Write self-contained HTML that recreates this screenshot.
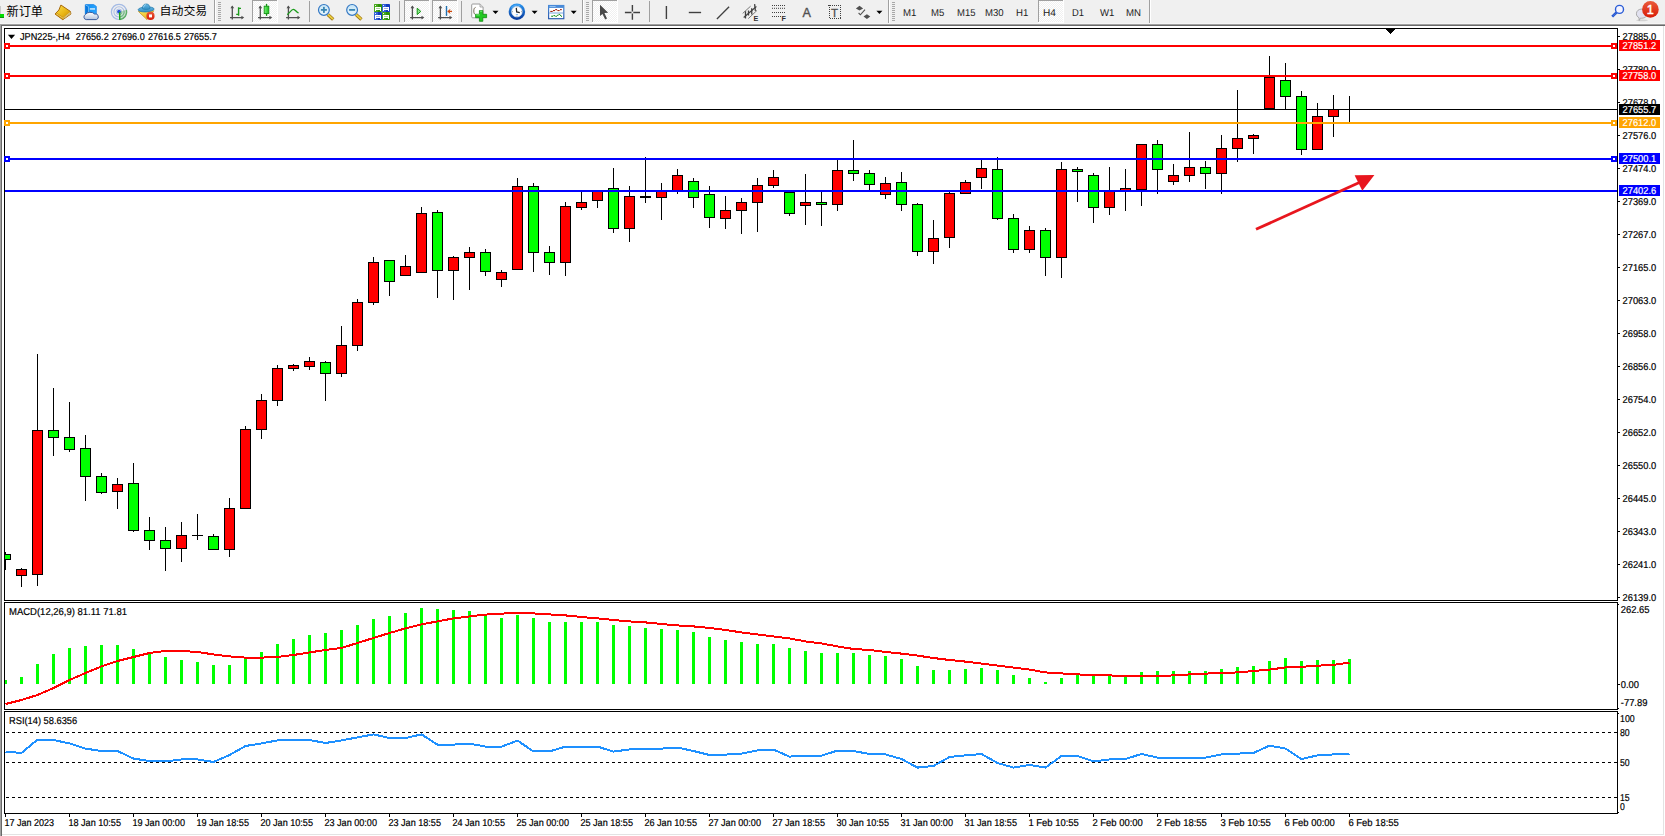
<!DOCTYPE html>
<html lang="zh-CN"><head><meta charset="utf-8"><title>JPN225-,H4</title>
<style>
html,body{margin:0;padding:0;background:#fff;}
body{width:1665px;height:836px;overflow:hidden;position:relative;font-family:"Liberation Sans", "Noto Sans CJK SC", sans-serif;}
#tb{position:absolute;left:0;top:0;width:1665px;height:24px;background:#f0f0f0;}
#tb .t{position:absolute;white-space:nowrap;color:#000;}
svg{position:absolute;left:0;top:0;}
svg text{font-family:"Liberation Sans", "Noto Sans CJK SC", sans-serif;}
.ax{font-size:10px;fill:#000;stroke:#000;stroke-width:0.2px;}
.dt{letter-spacing:-0.17px;}
</style></head><body>
<div id="tb"><svg width="1665" height="24" viewBox="0 0 1665 24" style="position:absolute;left:0;top:0">
<defs>
<linearGradient id="gGold" x1="0" y1="0" x2="1" y2="1"><stop offset="0" stop-color="#fbe04a"/><stop offset="0.55" stop-color="#e9b616"/><stop offset="1" stop-color="#b97a08"/></linearGradient>
<linearGradient id="gCloud" x1="0" y1="0" x2="0" y2="1"><stop offset="0" stop-color="#ffffff"/><stop offset="1" stop-color="#b4c4de"/></linearGradient>
<linearGradient id="gSrv" x1="0" y1="0" x2="1" y2="0"><stop offset="0" stop-color="#0a8cf0"/><stop offset="1" stop-color="#2aa4ff"/></linearGradient>
<linearGradient id="gHat" x1="0" y1="0" x2="0" y2="1"><stop offset="0" stop-color="#6ab8e6"/><stop offset="1" stop-color="#2f8fc4"/></linearGradient>
<linearGradient id="gFace" x1="0" y1="0" x2="1" y2="1"><stop offset="0" stop-color="#ffe95a"/><stop offset="1" stop-color="#e0a81c"/></linearGradient>
<linearGradient id="gRed" x1="0" y1="0" x2="0" y2="1"><stop offset="0" stop-color="#ea5a3a"/><stop offset="1" stop-color="#d81c08"/></linearGradient>
<linearGradient id="gGreen" x1="0" y1="0" x2="1" y2="0"><stop offset="0" stop-color="#7af07a"/><stop offset="1" stop-color="#18c018"/></linearGradient>
<linearGradient id="gLens" x1="0" y1="0" x2="0" y2="1"><stop offset="0" stop-color="#c4e4f6"/><stop offset="1" stop-color="#eaf6fc"/></linearGradient>
<linearGradient id="gClock" x1="0" y1="0" x2="0" y2="1"><stop offset="0" stop-color="#2a90ea"/><stop offset="1" stop-color="#0a3ea0"/></linearGradient>
<linearGradient id="gTpl" x1="0" y1="0" x2="0" y2="1"><stop offset="0" stop-color="#4a8ad8"/><stop offset="1" stop-color="#2a5cae"/></linearGradient>
<radialGradient id="gSig" cx="0.5" cy="0.5" r="0.5"><stop offset="0" stop-color="#fff" stop-opacity="0"/><stop offset="1" stop-color="#fff" stop-opacity="0"/></radialGradient>
<pattern id="chk" width="2" height="2" patternUnits="userSpaceOnUse"><rect width="2" height="2" fill="#f0f0f0"/><rect width="1" height="1" fill="#fff"/><rect x="1" y="1" width="1" height="1" fill="#fff"/></pattern>
</defs>
<rect x="0" y="14" width="4" height="3" fill="#00dc00"/><rect x="0" y="17" width="4" height="1" fill="#109010"/><rect x="0" y="6" width="1" height="8" fill="#c8c8c8"/>
<path d="M60.9 5 L70.4 11.4 L70.9 14 L62.8 19.7 L55 14 L58.9 10 Z" fill="url(#gGold)" stroke="#a8690a" stroke-width="1" stroke-linejoin="round"/>
<path d="M55.4 14 L62.8 19.3 L63.6 17.6 L56.6 12.8 Z" fill="#c98c12"/>
<path d="M56.2 13.6 L63.2 18.4" stroke="#f6dc6a" stroke-width="0.8" fill="none"/>
<path d="M63.4 19 L70.6 13.8 L70.2 12 L63.8 17.4 Z" fill="#e6d9a4"/>
<path d="M63.6 18.300 L70.400 13" stroke="#b89a50" stroke-width="0.6" fill="none"/>
<path d="M85.3 4.600 h8.400 l2.600 1.800 v7.600 h-11z" fill="url(#gSrv)" stroke="#1a84e6" stroke-width="0.8"/>
<path d="M85.5 4.900 l3 2 v6.600" fill="none" stroke="#c6e8ff" stroke-width="0.8"/>
<path d="M85.4 5 l3 2 v7 h-3z" fill="#0a78dc"/>
<rect x="89.8" y="8.300" width="5.200" height="1.300" fill="#eaf7ff"/>
<path d="M86.2 19.600 A2.700 2.700 0 0 1 85.700 14.400 A4.700 2.900 0 0 1 94.500 14 A2.900 2.900 0 0 1 96.300 19.600 Z" fill="url(#gCloud)" stroke="#3c5c9c" stroke-width="1" stroke-linejoin="round"/>
<g fill="none"><circle cx="119" cy="11.9" r="7.6" stroke="#5a86da" stroke-opacity="0.5" stroke-width="1.2"/><circle cx="119" cy="11.9" r="5.1" stroke="#5a86da" stroke-opacity="0.45" stroke-width="1.1"/><circle cx="119" cy="11.9" r="2.9" stroke="#5a86da" stroke-opacity="0.4" stroke-width="1"/></g>
<g fill="none" stroke="#4aa84a"><path d="M119.8 19.5 A7.6 7.6 0 0 0 126.4 10" stroke-opacity="0.85" stroke-width="1.4"/><path d="M119.8 17 A5.1 5.1 0 0 0 124 10.6" stroke-opacity="0.6" stroke-width="1.2"/><path d="M120 14.7 A2.9 2.9 0 0 0 121.8 11" stroke-opacity="0.5" stroke-width="1"/></g>
<path d="M119.6 12 L119.6 19.6 A7.8 7.8 0 0 0 126.4 9.4 Z" fill="#7cc47c" fill-opacity="0.28"/>
<circle cx="119" cy="11.7" r="1.9" fill="#2454d4"/>
<rect x="119" y="12" width="1.4" height="7.8" fill="#18a418"/>
<path d="M138.4 11.4 L153.8 10.8 L147 19.6 Z" fill="url(#gFace)" stroke="#c89418" stroke-width="0.8" stroke-linejoin="round"/>
<ellipse cx="146.1" cy="9.4" rx="8" ry="2.5" transform="rotate(-3 146.1 9.4)" fill="url(#gHat)" stroke="#2a80b0" stroke-width="0.8"/>
<path d="M142.4 8.6 c0-2.8 1.4-4.6 3.8-4.6 c2.4 0 3.8 1.800 3.800 4.400 c-1.200 1.300-6.400 1.400-7.600 0.200z" fill="url(#gHat)" stroke="#2a80b0" stroke-width="0.8"/>
<path d="M143.6 7.4 c0.200-1.600 1-2.600 2.200-2.800" fill="none" stroke="#a8dcf6" stroke-width="0.9"/>
<circle cx="150.5" cy="15.9" r="4.1" fill="url(#gRed)"/><rect x="149" y="14.4" width="3" height="3" fill="#fff"/>
<rect x="214" y="0" width="1" height="24" fill="#a0a0a0" shape-rendering="crispEdges"/><rect x="215" y="0" width="1" height="23" fill="#fff" shape-rendering="crispEdges"/>
<rect x="218" y="2" width="3" height="1" fill="#a8a8a8" shape-rendering="crispEdges"/>
<rect x="218" y="4" width="3" height="1" fill="#a8a8a8" shape-rendering="crispEdges"/>
<rect x="218" y="6" width="3" height="1" fill="#a8a8a8" shape-rendering="crispEdges"/>
<rect x="218" y="8" width="3" height="1" fill="#a8a8a8" shape-rendering="crispEdges"/>
<rect x="218" y="10" width="3" height="1" fill="#a8a8a8" shape-rendering="crispEdges"/>
<rect x="218" y="12" width="3" height="1" fill="#a8a8a8" shape-rendering="crispEdges"/>
<rect x="218" y="14" width="3" height="1" fill="#a8a8a8" shape-rendering="crispEdges"/>
<rect x="218" y="16" width="3" height="1" fill="#a8a8a8" shape-rendering="crispEdges"/>
<rect x="218" y="18" width="3" height="1" fill="#a8a8a8" shape-rendering="crispEdges"/>
<rect x="218" y="20" width="3" height="1" fill="#a8a8a8" shape-rendering="crispEdges"/>
<g stroke="#505050" stroke-width="1.3" fill="none" stroke-linecap="butt"><path d="M232.3 6.3V19.6M230.0 17.6H242.8"/></g>
<path d="M232.3 5.4l-1.9 2.8h3.8zM244.2 17.6l-2.800-1.900v3.800z" fill="#505050"/>
<path d="M238.6 7.2V15.8M238.6 8.4H241M236.2 14.4H238.6" stroke="#1c9c1c" stroke-width="1.4" fill="none"/>
<g shape-rendering="crispEdges"><rect x="252" y="0" width="25" height="23" fill="url(#chk)"/>
<rect x="252" y="0" width="25" height="1" fill="#a0a0a0"/><rect x="252" y="0" width="1" height="22" fill="#a0a0a0"/>
<rect x="252" y="22" width="26" height="1" fill="#fff"/><rect x="277" y="0" width="1" height="23" fill="#fff"/></g>
<g stroke="#505050" stroke-width="1.3" fill="none" stroke-linecap="butt"><path d="M260.3 6.3V19.6M258.0 17.6H270.8"/></g>
<path d="M260.3 5.4l-1.9 2.8h3.8zM272.2 17.6l-2.800-1.900v3.800z" fill="#505050"/>
<rect x="265.9" y="3.9" width="1.3" height="12" fill="#149414"/><rect x="264.2" y="6.2" width="4.6" height="7.4" fill="url(#gGreen)" stroke="#149414" stroke-width="0.9"/>
<g stroke="#505050" stroke-width="1.3" fill="none" stroke-linecap="butt"><path d="M288.4 6.3V19.6M286.1 17.6H298.9"/></g>
<path d="M288.4 5.4l-1.9 2.8h3.8zM300.3 17.6l-2.800-1.900v3.800z" fill="#505050"/>
<path d="M287.2 14.6 C289.6 13.4 291.2 9.2 293.4 9.3 C295.4 9.4 296.4 12.4 298.6 12.9" stroke="#1c9c1c" stroke-width="1.3" fill="none"/>
<rect x="309" y="1" width="1" height="21" fill="#a0a0a0" shape-rendering="crispEdges"/>
<path d="M327.8 14.4 L333.2 19.4" stroke="#a07818" stroke-width="3.4" stroke-linecap="butt"/>
<path d="M327.8 14.4 L333.0 19.2" stroke="#ecd040" stroke-width="1.8" stroke-linecap="butt"/>
<circle cx="323.9" cy="9.9" r="5.400" fill="url(#gLens)" stroke="#3478c4" stroke-width="1.2"/>
<rect x="320.9" y="9" width="6" height="1.8" fill="#3a86b4"/>
<rect x="323.0" y="6.9" width="1.8" height="6" fill="#3a86b4"/>
<path d="M356.0 14.4 L361.4 19.4" stroke="#a07818" stroke-width="3.4" stroke-linecap="butt"/>
<path d="M356.0 14.4 L361.2 19.2" stroke="#ecd040" stroke-width="1.8" stroke-linecap="butt"/>
<circle cx="352.1" cy="9.9" r="5.400" fill="url(#gLens)" stroke="#3478c4" stroke-width="1.2"/>
<rect x="349.1" y="9" width="6" height="1.8" fill="#3a86b4"/>
<rect x="374.0" y="4.0" width="8" height="8" rx="0.8" fill="#2f9208"/>
<rect x="374.0" y="4.0" width="4" height="8" rx="0.8" fill="#58b82a" fill-opacity="0.6"/>
<rect x="375.0" y="5.0" width="1" height="1" fill="#fff" fill-opacity="0.9"/>
<path d="M375.0 7.0 h6 v4 h-1 v-1 h-4 v1 h-1z" fill="#fff"/>
<rect x="376.0" y="8.0" width="4" height="1" fill="#2f9208" fill-opacity="0.4"/>
<rect x="382.0" y="4.0" width="8" height="8" rx="0.8" fill="#143cc0"/>
<rect x="382.0" y="4.0" width="4" height="8" rx="0.8" fill="#4a7ce6" fill-opacity="0.6"/>
<rect x="383.0" y="5.0" width="1" height="1" fill="#fff" fill-opacity="0.9"/>
<path d="M383.0 7.0 h6 v4 h-1 v-1 h-4 v1 h-1z" fill="#fff"/>
<rect x="384.0" y="8.0" width="4" height="1" fill="#143cc0" fill-opacity="0.4"/>
<rect x="374.0" y="12.0" width="8" height="8" rx="0.8" fill="#143cc0"/>
<rect x="374.0" y="12.0" width="4" height="8" rx="0.8" fill="#4a7ce6" fill-opacity="0.6"/>
<rect x="375.0" y="13.0" width="1" height="1" fill="#fff" fill-opacity="0.9"/>
<path d="M375.0 15.0 h6 v4 h-1 v-1 h-4 v1 h-1z" fill="#fff"/>
<rect x="376.0" y="16.0" width="4" height="1" fill="#143cc0" fill-opacity="0.4"/>
<rect x="382.0" y="12.0" width="8" height="8" rx="0.8" fill="#2f9208"/>
<rect x="382.0" y="12.0" width="4" height="8" rx="0.8" fill="#58b82a" fill-opacity="0.6"/>
<rect x="383.0" y="13.0" width="1" height="1" fill="#fff" fill-opacity="0.9"/>
<path d="M383.0 15.0 h6 v4 h-1 v-1 h-4 v1 h-1z" fill="#fff"/>
<rect x="384.0" y="16.0" width="4" height="1" fill="#2f9208" fill-opacity="0.4"/>
<rect x="399" y="1" width="1" height="21" fill="#a0a0a0" shape-rendering="crispEdges"/>
<g shape-rendering="crispEdges"><rect x="404" y="0" width="25" height="23" fill="url(#chk)"/>
<rect x="404" y="0" width="25" height="1" fill="#a0a0a0"/><rect x="404" y="0" width="1" height="22" fill="#a0a0a0"/>
<rect x="404" y="22" width="26" height="1" fill="#fff"/><rect x="429" y="0" width="1" height="23" fill="#fff"/></g>
<g stroke="#505050" stroke-width="1.3" fill="none" stroke-linecap="butt"><path d="M412.4 6.3V19.6M410.1 17.6H422.9"/></g>
<path d="M412.4 5.4l-1.9 2.8h3.8zM424.3 17.6l-2.800-1.900v3.800z" fill="#505050"/>
<path d="M417.2 8.2 L417.2 14.6 L420.8 11.4 Z" fill="#8ae88a" stroke="#149414" stroke-width="1"/>
<g shape-rendering="crispEdges"><rect x="432" y="0" width="25" height="23" fill="url(#chk)"/>
<rect x="432" y="0" width="25" height="1" fill="#a0a0a0"/><rect x="432" y="0" width="1" height="22" fill="#a0a0a0"/>
<rect x="432" y="22" width="26" height="1" fill="#fff"/><rect x="457" y="0" width="1" height="23" fill="#fff"/></g>
<g stroke="#505050" stroke-width="1.3" fill="none" stroke-linecap="butt"><path d="M440.4 6.3V19.6M438.1 17.6H450.9"/></g>
<path d="M440.4 5.4l-1.9 2.8h3.8zM452.3 17.6l-2.800-1.900v3.800z" fill="#505050"/>
<rect x="445.8" y="6" width="1.4" height="9.9" fill="#2070b0"/>
<path d="M452 11.4 H448.4" stroke="#d04808" stroke-width="1.3"/><path d="M447.2 11.4 l3.2 -2.6 l-0.8 2.6 l0.8 2.6z" fill="#d04808"/>
<rect x="461" y="1" width="1" height="21" fill="#a0a0a0" shape-rendering="crispEdges"/>
<path d="M471.7 5 a1 1 0 0 1 1 -1 h7.4 l3 3 v9.8 a1 1 0 0 1 -1 1 h-9.4 a1 1 0 0 1 -1 -1z" fill="#fff" stroke="#9a9a9a" stroke-width="1"/>
<path d="M480 4 v3 h3" fill="#e8e8e8" stroke="#9a9a9a" stroke-width="0.8"/>
<path d="M475.6 7.4 c-1.6 0.4-1.8 2-1.8 3.6 s0.2 3 1.6 3.4" fill="none" stroke="#6a6048" stroke-width="0.9"/>
<path d="M479.400 10.600 h3.400 v3.700 h3.800 v3.400 h-3.800 v3.600 h-3.400 v-3.600 h-3.800 v-3.400 h3.800z" fill="#22c822" stroke="#128a12" stroke-width="0.800"/>
<path d="M480 11.2 h2.2 M476.2 14.9 h3.6" stroke="#8af08a" stroke-width="0.9"/>
<polygon points="492.5,10.8 498.5,10.8 495.5,14.1" fill="#000"/>
<circle cx="516.9" cy="11.7" r="6.800" fill="#fff" stroke="url(#gClock)" stroke-width="2.900"/>
<path d="M511.400 8.400 A6.800 6.800 0 0 1 520 5.600" fill="none" stroke="#58b0f8" stroke-width="1.200" stroke-opacity="0.800"/>
<circle cx="516.9" cy="11.7" r="5.300" fill="none" stroke="#c8d4e4" stroke-width="0.700"/>
<path d="M516.300 8 L516.700 12 L519.800 12.700" stroke="#282828" stroke-width="1.300" fill="none"/>
<g fill="#8a8a8a"><rect x="516.5" y="6.800" width="0.8" height="0.900"/><rect x="516.5" y="15.800" width="0.8" height="0.900"/><rect x="512" y="11.3" width="0.900" height="0.8"/><rect x="521" y="11.3" width="0.900" height="0.8"/></g>
<rect x="515.8" y="14.300" width="2.200" height="0.800" fill="#60a8f0"/>
<polygon points="531.6,10.8 537.6,10.8 534.6,14.1" fill="#000"/>
<rect x="548.6" y="5.5" width="15.2" height="13.2" fill="#fff" stroke="url(#gTpl)" stroke-width="1.2"/>
<rect x="548.6" y="5.5" width="15.2" height="2.4" fill="#4a8ad8"/><rect x="549.6" y="6" width="6" height="0.8" fill="#a8d0f8"/>
<rect x="549.2" y="12.500" width="14" height="1" fill="#7aa6de"/>
<g fill="#a02410">
<rect x="550.3" y="10.9" width="2.4" height="1.100"/>
<rect x="553.0" y="10.0" width="2.0" height="1.100"/>
<rect x="555.2" y="9.1" width="1.9" height="1.100"/>
<rect x="557.4" y="10.0" width="2.2" height="1.100"/>
<rect x="560.0" y="9.1" width="1.8" height="1.100"/>
</g><g fill="#18901c">
<rect x="551.2" y="15.7" width="1.8" height="1.100"/>
<rect x="553.4" y="15.1" width="1.6" height="1.100"/>
<rect x="555.3" y="15.7" width="1.6" height="1.100"/>
<rect x="557.1" y="14.8" width="1.3" height="1.100"/>
<rect x="558.6" y="13.9" width="1.3" height="1.100"/>
<rect x="560.0" y="14.8" width="1.0" height="1.100"/>
<rect x="561.0" y="15.7" width="1.0" height="1.100"/>
</g>
<polygon points="570.7,10.8 576.7,10.8 573.7,14.1" fill="#000"/>
<rect x="582" y="0" width="1" height="24" fill="#a0a0a0" shape-rendering="crispEdges"/><rect x="583" y="0" width="1" height="23" fill="#fff" shape-rendering="crispEdges"/>
<rect x="586" y="2" width="3" height="1" fill="#a8a8a8" shape-rendering="crispEdges"/>
<rect x="586" y="4" width="3" height="1" fill="#a8a8a8" shape-rendering="crispEdges"/>
<rect x="586" y="6" width="3" height="1" fill="#a8a8a8" shape-rendering="crispEdges"/>
<rect x="586" y="8" width="3" height="1" fill="#a8a8a8" shape-rendering="crispEdges"/>
<rect x="586" y="10" width="3" height="1" fill="#a8a8a8" shape-rendering="crispEdges"/>
<rect x="586" y="12" width="3" height="1" fill="#a8a8a8" shape-rendering="crispEdges"/>
<rect x="586" y="14" width="3" height="1" fill="#a8a8a8" shape-rendering="crispEdges"/>
<rect x="586" y="16" width="3" height="1" fill="#a8a8a8" shape-rendering="crispEdges"/>
<rect x="586" y="18" width="3" height="1" fill="#a8a8a8" shape-rendering="crispEdges"/>
<rect x="586" y="20" width="3" height="1" fill="#a8a8a8" shape-rendering="crispEdges"/>
<g shape-rendering="crispEdges"><rect x="592" y="0" width="25" height="23" fill="url(#chk)"/>
<rect x="592" y="0" width="25" height="1" fill="#a0a0a0"/><rect x="592" y="0" width="1" height="22" fill="#a0a0a0"/>
<rect x="592" y="22" width="26" height="1" fill="#fff"/><rect x="617" y="0" width="1" height="23" fill="#fff"/></g>
<path d="M600 4.8 L600 16 L602.5 14 L605.2 19.4 L607 18.4 L604.4 13 L608.2 12.7 Z" fill="#484848"/>
<path d="M632.4 5.1V11.6M632.4 13.4V19.8M624.9 12.5H631.5M633.3 12.5H640" stroke="#404040" stroke-width="1.4" fill="none"/>
<rect x="649" y="1" width="1" height="21" fill="#a0a0a0" shape-rendering="crispEdges"/>
<path d="M666.4 6V19" stroke="#404040" stroke-width="1.4"/>
<path d="M688.8 12.5H701.1" stroke="#404040" stroke-width="1.4"/>
<path d="M716.9 19L729.1 6.7" stroke="#404040" stroke-width="1.3"/>
<g stroke="#404040" fill="none"><path d="M742.700 13.400L750.600 6.200M748.300 18.600L757 10.400" stroke-width="0.9" stroke-opacity="0.750"/><path d="M743.700 17.500L756.400 6.500" stroke-width="1.100"/><path d="M745.500 11.200V18.600M748.500 10.400V15.400M751.700 8.300L751.800 14.600M754.600 4.100L755.400 10.900" stroke-width="1.300"/></g>
<text x="753.6" y="20.8" font-size="7.2" font-weight="bold" fill="#303030" font-family="Liberation Sans, sans-serif">E</text>
<path d="M772 5.5H785" stroke="#404040" stroke-width="1" stroke-dasharray="1,1"/>
<path d="M772 8.3H785" stroke="#404040" stroke-width="1" stroke-dasharray="1,1"/>
<path d="M772 12.5H785" stroke="#404040" stroke-width="1" stroke-dasharray="1,1"/>
<path d="M772 16.5H781" stroke="#404040" stroke-width="1" stroke-dasharray="1,1"/>
<text x="781.6" y="20.8" font-size="7.2" font-weight="bold" fill="#303030" font-family="Liberation Sans, sans-serif">F</text>
<text x="802.4" y="16.8" font-size="12.6" fill="#505050" stroke="#505050" stroke-width="0.35" font-family="Liberation Sans, sans-serif">A</text>
<rect x="829.5" y="5.5" width="11" height="13" fill="none" stroke="#404040" stroke-width="1" stroke-dasharray="1,1" shape-rendering="crispEdges"/>
<rect x="828" y="5" width="2" height="1" fill="#404040" shape-rendering="crispEdges"/>
<text x="830.9" y="16.8" font-size="11.6" fill="#505050" stroke="#505050" stroke-width="0.3" font-family="Liberation Sans, sans-serif">T</text>
<path d="M859.5 5.8 l3.6 2.6 l-3.6 2 l-3.6-2z M866.9 14.2 l3.4 2.2 l-3.4 2.6 l-3.4-2.6z" fill="#505050"/>
<path d="M858.6 13 l1.8 1.8 l4.6-5.2" stroke="#505050" stroke-width="1.1" fill="none"/>
<polygon points="876.4,10.8 882.4,10.8 879.4,14.1" fill="#000"/>
<rect x="888" y="0" width="1" height="24" fill="#a0a0a0" shape-rendering="crispEdges"/><rect x="889" y="0" width="1" height="23" fill="#fff" shape-rendering="crispEdges"/>
<rect x="892" y="2" width="3" height="1" fill="#a8a8a8" shape-rendering="crispEdges"/>
<rect x="892" y="4" width="3" height="1" fill="#a8a8a8" shape-rendering="crispEdges"/>
<rect x="892" y="6" width="3" height="1" fill="#a8a8a8" shape-rendering="crispEdges"/>
<rect x="892" y="8" width="3" height="1" fill="#a8a8a8" shape-rendering="crispEdges"/>
<rect x="892" y="10" width="3" height="1" fill="#a8a8a8" shape-rendering="crispEdges"/>
<rect x="892" y="12" width="3" height="1" fill="#a8a8a8" shape-rendering="crispEdges"/>
<rect x="892" y="14" width="3" height="1" fill="#a8a8a8" shape-rendering="crispEdges"/>
<rect x="892" y="16" width="3" height="1" fill="#a8a8a8" shape-rendering="crispEdges"/>
<rect x="892" y="18" width="3" height="1" fill="#a8a8a8" shape-rendering="crispEdges"/>
<rect x="892" y="20" width="3" height="1" fill="#a8a8a8" shape-rendering="crispEdges"/>
<g shape-rendering="crispEdges"><rect x="1038" y="0" width="25" height="23" fill="url(#chk)"/>
<rect x="1038" y="0" width="25" height="1" fill="#a0a0a0"/><rect x="1038" y="0" width="1" height="22" fill="#a0a0a0"/>
<rect x="1038" y="22" width="26" height="1" fill="#fff"/><rect x="1063" y="0" width="1" height="23" fill="#fff"/></g>
<rect x="1149" y="0" width="1" height="24" fill="#a0a0a0" shape-rendering="crispEdges"/><rect x="1150" y="0" width="1" height="23" fill="#fff" shape-rendering="crispEdges"/>
<path d="M1616.6 12.3 L1612.2 16.7" stroke="#2456d0" stroke-width="2.6"/><path d="M1616.2 12.8 L1612.6 16.2" stroke="#6a90e8" stroke-width="0.8" stroke-dasharray="0.8,0.8"/>
<circle cx="1619.5" cy="9.4" r="4" fill="#f4f4ff" stroke="#2a5cd6" stroke-width="1.4"/>
<ellipse cx="1642" cy="20.3" rx="6" ry="0.9" fill="#000" fill-opacity="0.12"/>
<path d="M1636.4 13.8 c0-3 2.4-4.8 5.6-4.8 c3.2 0 5.2 1.8 5.2 4.6 c0 2.8-2.2 4.6-5.2 4.6 c-0.6 0-1.2 0-1.6-0.1 l-1.2 2.4 l-0.2-2.8 c-1.6-0.8-2.6-2.2-2.6-3.900z" fill="#e2e2f0" stroke="#a4a4a4" stroke-width="0.9"/>
<circle cx="1650.4" cy="9.4" r="8.3" fill="url(#gRed)"/>
<text x="1650.3" y="14" font-size="12.6" fill="#fff" stroke="#fff" stroke-width="0.45" text-anchor="middle" font-family="Liberation Serif, serif">1</text>
</svg>
<div class="t" style="left:6.5px;top:4.5px;font-size:12.2px;line-height:14.2px;">新订单</div>
<div class="t" style="left:159.6px;top:4.5px;font-size:11.9px;line-height:13.9px;">自动交易</div>
<div class="t tf" style="left:903.2px;top:5px;"><svg width="24" height="14" style="position:static;display:block;overflow:visible"><text x="0" y="11" transform="rotate(0.03 0 11)" textLength="13.4" lengthAdjust="spacingAndGlyphs" font-size="10" fill="#1c1c1c">M1</text></svg></div>
<div class="t tf" style="left:931.3px;top:5px;"><svg width="24" height="14" style="position:static;display:block;overflow:visible"><text x="0" y="11" transform="rotate(0.03 0 11)" textLength="13.3" lengthAdjust="spacingAndGlyphs" font-size="10" fill="#1c1c1c">M5</text></svg></div>
<div class="t tf" style="left:957.2px;top:5px;"><svg width="24" height="14" style="position:static;display:block;overflow:visible"><text x="0" y="11" transform="rotate(0.03 0 11)" textLength="18.4" lengthAdjust="spacingAndGlyphs" font-size="10" fill="#1c1c1c">M15</text></svg></div>
<div class="t tf" style="left:985.1px;top:5px;"><svg width="24" height="14" style="position:static;display:block;overflow:visible"><text x="0" y="11" transform="rotate(0.03 0 11)" textLength="18.6" lengthAdjust="spacingAndGlyphs" font-size="10" fill="#1c1c1c">M30</text></svg></div>
<div class="t tf" style="left:1016.1px;top:5px;"><svg width="24" height="14" style="position:static;display:block;overflow:visible"><text x="0" y="11" transform="rotate(0.03 0 11)" textLength="12.3" lengthAdjust="spacingAndGlyphs" font-size="10" fill="#1c1c1c">H1</text></svg></div>
<div class="t tf" style="left:1043.4px;top:5px;"><svg width="24" height="14" style="position:static;display:block;overflow:visible"><text x="0" y="11" transform="rotate(0.03 0 11)" textLength="12.9" lengthAdjust="spacingAndGlyphs" font-size="10" fill="#1c1c1c">H4</text></svg></div>
<div class="t tf" style="left:1072.4px;top:5px;"><svg width="24" height="14" style="position:static;display:block;overflow:visible"><text x="0" y="11" transform="rotate(0.03 0 11)" textLength="12.0" lengthAdjust="spacingAndGlyphs" font-size="10" fill="#1c1c1c">D1</text></svg></div>
<div class="t tf" style="left:1100.0px;top:5px;"><svg width="24" height="14" style="position:static;display:block;overflow:visible"><text x="0" y="11" transform="rotate(0.03 0 11)" textLength="14.4" lengthAdjust="spacingAndGlyphs" font-size="10" fill="#1c1c1c">W1</text></svg></div>
<div class="t tf" style="left:1126.4px;top:5px;"><svg width="24" height="14" style="position:static;display:block;overflow:visible"><text x="0" y="11" transform="rotate(0.03 0 11)" textLength="15.0" lengthAdjust="spacingAndGlyphs" font-size="10" fill="#1c1c1c">MN</text></svg></div></div>
<svg id="chart" width="1665" height="836" viewBox="0 0 1665 836">
<g shape-rendering="crispEdges">
<rect x="0" y="23" width="1665" height="1" fill="#f5f5f5"/>
<rect x="0" y="24" width="1665" height="1" fill="#a0a0a0"/>
<rect x="0" y="25" width="1665" height="1" fill="#696969"/>
<rect x="0" y="25" width="1" height="811" fill="#a0a0a0"/>
<rect x="1" y="26" width="1" height="810" fill="#696969"/>
<rect x="1663" y="26" width="1" height="809" fill="#e3e3e3"/>
<rect x="2" y="834" width="1662" height="1" fill="#e3e3e3"/>
<rect x="4" y="28" width="1614" height="1" fill="#000"/>
<rect x="4" y="600" width="1614" height="1" fill="#000"/>
<rect x="4" y="602" width="1614" height="1" fill="#000"/>
<rect x="4" y="709" width="1614" height="1" fill="#000"/>
<rect x="4" y="711" width="1614" height="1" fill="#000"/>
<rect x="4" y="813" width="1614" height="1" fill="#000"/>
<rect x="4" y="28" width="1" height="573" fill="#000"/>
<rect x="1617" y="28" width="1" height="573" fill="#000"/>
<rect x="4" y="602" width="1" height="108" fill="#000"/>
<rect x="1617" y="602" width="1" height="108" fill="#000"/>
<rect x="4" y="711" width="1" height="103" fill="#000"/>
<rect x="1617" y="711" width="1" height="103" fill="#000"/>
<rect x="5" y="109" width="1612" height="1" fill="#000"/>
<rect x="5" y="552" width="1" height="18" fill="#000"/>
<rect x="5" y="554" width="6" height="6" fill="#000"/>
<rect x="5" y="555" width="5" height="4" fill="#00ff00"/>
<rect x="21" y="568" width="1" height="19" fill="#000"/>
<rect x="16" y="569" width="11" height="7" fill="#000"/>
<rect x="17" y="570" width="9" height="5" fill="#ff0000"/>
<rect x="37" y="354" width="1" height="232" fill="#000"/>
<rect x="32" y="430" width="11" height="145" fill="#000"/>
<rect x="33" y="431" width="9" height="143" fill="#ff0000"/>
<rect x="53" y="388" width="1" height="68" fill="#000"/>
<rect x="48" y="430" width="11" height="8" fill="#000"/>
<rect x="49" y="431" width="9" height="6" fill="#00ff00"/>
<rect x="69" y="402" width="1" height="50" fill="#000"/>
<rect x="64" y="437" width="11" height="13" fill="#000"/>
<rect x="65" y="438" width="9" height="11" fill="#00ff00"/>
<rect x="85" y="435" width="1" height="66" fill="#000"/>
<rect x="80" y="448" width="11" height="29" fill="#000"/>
<rect x="81" y="449" width="9" height="27" fill="#00ff00"/>
<rect x="101" y="473" width="1" height="21" fill="#000"/>
<rect x="96" y="476" width="11" height="17" fill="#000"/>
<rect x="97" y="477" width="9" height="15" fill="#00ff00"/>
<rect x="117" y="478" width="1" height="31" fill="#000"/>
<rect x="112" y="484" width="11" height="8" fill="#000"/>
<rect x="113" y="485" width="9" height="6" fill="#ff0000"/>
<rect x="133" y="463" width="1" height="69" fill="#000"/>
<rect x="128" y="483" width="11" height="48" fill="#000"/>
<rect x="129" y="484" width="9" height="46" fill="#00ff00"/>
<rect x="149" y="517" width="1" height="33" fill="#000"/>
<rect x="144" y="530" width="11" height="11" fill="#000"/>
<rect x="145" y="531" width="9" height="9" fill="#00ff00"/>
<rect x="165" y="527" width="1" height="44" fill="#000"/>
<rect x="160" y="540" width="11" height="9" fill="#000"/>
<rect x="161" y="541" width="9" height="7" fill="#00ff00"/>
<rect x="181" y="522" width="1" height="40" fill="#000"/>
<rect x="176" y="535" width="11" height="14" fill="#000"/>
<rect x="177" y="536" width="9" height="12" fill="#ff0000"/>
<rect x="197" y="514" width="1" height="26" fill="#000"/>
<rect x="192" y="535" width="11" height="1" fill="#000"/>
<rect x="213" y="534" width="1" height="16" fill="#000"/>
<rect x="208" y="536" width="11" height="14" fill="#000"/>
<rect x="209" y="537" width="9" height="12" fill="#00ff00"/>
<rect x="229" y="498" width="1" height="59" fill="#000"/>
<rect x="224" y="508" width="11" height="42" fill="#000"/>
<rect x="225" y="509" width="9" height="40" fill="#ff0000"/>
<rect x="245" y="426" width="1" height="83" fill="#000"/>
<rect x="240" y="429" width="11" height="80" fill="#000"/>
<rect x="241" y="430" width="9" height="78" fill="#ff0000"/>
<rect x="261" y="394" width="1" height="45" fill="#000"/>
<rect x="256" y="400" width="11" height="30" fill="#000"/>
<rect x="257" y="401" width="9" height="28" fill="#ff0000"/>
<rect x="277" y="365" width="1" height="41" fill="#000"/>
<rect x="272" y="368" width="11" height="33" fill="#000"/>
<rect x="273" y="369" width="9" height="31" fill="#ff0000"/>
<rect x="293" y="364" width="1" height="7" fill="#000"/>
<rect x="288" y="365" width="11" height="4" fill="#000"/>
<rect x="289" y="366" width="9" height="2" fill="#ff0000"/>
<rect x="309" y="357" width="1" height="13" fill="#000"/>
<rect x="304" y="361" width="11" height="6" fill="#000"/>
<rect x="305" y="362" width="9" height="4" fill="#ff0000"/>
<rect x="325" y="361" width="1" height="40" fill="#000"/>
<rect x="320" y="362" width="11" height="12" fill="#000"/>
<rect x="321" y="363" width="9" height="10" fill="#00ff00"/>
<rect x="341" y="326" width="1" height="51" fill="#000"/>
<rect x="336" y="345" width="11" height="29" fill="#000"/>
<rect x="337" y="346" width="9" height="27" fill="#ff0000"/>
<rect x="357" y="299" width="1" height="52" fill="#000"/>
<rect x="352" y="302" width="11" height="44" fill="#000"/>
<rect x="353" y="303" width="9" height="42" fill="#ff0000"/>
<rect x="373" y="257" width="1" height="48" fill="#000"/>
<rect x="368" y="262" width="11" height="41" fill="#000"/>
<rect x="369" y="263" width="9" height="39" fill="#ff0000"/>
<rect x="389" y="260" width="1" height="36" fill="#000"/>
<rect x="384" y="260" width="11" height="22" fill="#000"/>
<rect x="385" y="261" width="9" height="20" fill="#00ff00"/>
<rect x="405" y="255" width="1" height="21" fill="#000"/>
<rect x="400" y="266" width="11" height="10" fill="#000"/>
<rect x="401" y="267" width="9" height="8" fill="#ff0000"/>
<rect x="421" y="207" width="1" height="66" fill="#000"/>
<rect x="416" y="213" width="11" height="60" fill="#000"/>
<rect x="417" y="214" width="9" height="58" fill="#ff0000"/>
<rect x="437" y="210" width="1" height="88" fill="#000"/>
<rect x="432" y="212" width="11" height="59" fill="#000"/>
<rect x="433" y="213" width="9" height="57" fill="#00ff00"/>
<rect x="453" y="256" width="1" height="44" fill="#000"/>
<rect x="448" y="257" width="11" height="14" fill="#000"/>
<rect x="449" y="258" width="9" height="12" fill="#ff0000"/>
<rect x="469" y="247" width="1" height="43" fill="#000"/>
<rect x="464" y="252" width="11" height="6" fill="#000"/>
<rect x="465" y="253" width="9" height="4" fill="#ff0000"/>
<rect x="485" y="249" width="1" height="27" fill="#000"/>
<rect x="480" y="252" width="11" height="20" fill="#000"/>
<rect x="481" y="253" width="9" height="18" fill="#00ff00"/>
<rect x="501" y="270" width="1" height="17" fill="#000"/>
<rect x="496" y="272" width="11" height="8" fill="#000"/>
<rect x="497" y="273" width="9" height="6" fill="#ff0000"/>
<rect x="517" y="178" width="1" height="92" fill="#000"/>
<rect x="512" y="186" width="11" height="84" fill="#000"/>
<rect x="513" y="187" width="9" height="82" fill="#ff0000"/>
<rect x="533" y="183" width="1" height="89" fill="#000"/>
<rect x="528" y="186" width="11" height="67" fill="#000"/>
<rect x="529" y="187" width="9" height="65" fill="#00ff00"/>
<rect x="549" y="246" width="1" height="29" fill="#000"/>
<rect x="544" y="252" width="11" height="11" fill="#000"/>
<rect x="545" y="253" width="9" height="9" fill="#00ff00"/>
<rect x="565" y="202" width="1" height="74" fill="#000"/>
<rect x="560" y="206" width="11" height="57" fill="#000"/>
<rect x="561" y="207" width="9" height="55" fill="#ff0000"/>
<rect x="581" y="190" width="1" height="20" fill="#000"/>
<rect x="576" y="202" width="11" height="6" fill="#000"/>
<rect x="577" y="203" width="9" height="4" fill="#ff0000"/>
<rect x="597" y="190" width="1" height="18" fill="#000"/>
<rect x="592" y="190" width="11" height="11" fill="#000"/>
<rect x="593" y="191" width="9" height="9" fill="#ff0000"/>
<rect x="613" y="168" width="1" height="65" fill="#000"/>
<rect x="608" y="188" width="11" height="41" fill="#000"/>
<rect x="609" y="189" width="9" height="39" fill="#00ff00"/>
<rect x="629" y="186" width="1" height="56" fill="#000"/>
<rect x="624" y="196" width="11" height="33" fill="#000"/>
<rect x="625" y="197" width="9" height="31" fill="#ff0000"/>
<rect x="645" y="157" width="1" height="46" fill="#000"/>
<rect x="640" y="196" width="11" height="2" fill="#000"/>
<rect x="661" y="183" width="1" height="37" fill="#000"/>
<rect x="656" y="190" width="11" height="8" fill="#000"/>
<rect x="657" y="191" width="9" height="6" fill="#ff0000"/>
<rect x="677" y="169" width="1" height="25" fill="#000"/>
<rect x="672" y="175" width="11" height="16" fill="#000"/>
<rect x="673" y="176" width="9" height="14" fill="#ff0000"/>
<rect x="693" y="178" width="1" height="30" fill="#000"/>
<rect x="688" y="181" width="11" height="17" fill="#000"/>
<rect x="689" y="182" width="9" height="15" fill="#00ff00"/>
<rect x="709" y="186" width="1" height="42" fill="#000"/>
<rect x="704" y="194" width="11" height="24" fill="#000"/>
<rect x="705" y="195" width="9" height="22" fill="#00ff00"/>
<rect x="725" y="196" width="1" height="33" fill="#000"/>
<rect x="720" y="210" width="11" height="9" fill="#000"/>
<rect x="721" y="211" width="9" height="7" fill="#ff0000"/>
<rect x="741" y="198" width="1" height="36" fill="#000"/>
<rect x="736" y="202" width="11" height="9" fill="#000"/>
<rect x="737" y="203" width="9" height="7" fill="#ff0000"/>
<rect x="757" y="178" width="1" height="54" fill="#000"/>
<rect x="752" y="185" width="11" height="18" fill="#000"/>
<rect x="753" y="186" width="9" height="16" fill="#ff0000"/>
<rect x="773" y="170" width="1" height="18" fill="#000"/>
<rect x="768" y="177" width="11" height="9" fill="#000"/>
<rect x="769" y="178" width="9" height="7" fill="#ff0000"/>
<rect x="789" y="190" width="1" height="26" fill="#000"/>
<rect x="784" y="192" width="11" height="22" fill="#000"/>
<rect x="785" y="193" width="9" height="20" fill="#00ff00"/>
<rect x="805" y="174" width="1" height="51" fill="#000"/>
<rect x="800" y="202" width="11" height="4" fill="#000"/>
<rect x="801" y="203" width="9" height="2" fill="#ff0000"/>
<rect x="821" y="192" width="1" height="34" fill="#000"/>
<rect x="816" y="202" width="11" height="3" fill="#000"/>
<rect x="817" y="203" width="9" height="1" fill="#00ff00"/>
<rect x="837" y="160" width="1" height="51" fill="#000"/>
<rect x="832" y="170" width="11" height="35" fill="#000"/>
<rect x="833" y="171" width="9" height="33" fill="#ff0000"/>
<rect x="853" y="140" width="1" height="41" fill="#000"/>
<rect x="848" y="170" width="11" height="4" fill="#000"/>
<rect x="849" y="171" width="9" height="2" fill="#00ff00"/>
<rect x="869" y="170" width="1" height="20" fill="#000"/>
<rect x="864" y="173" width="11" height="12" fill="#000"/>
<rect x="865" y="174" width="9" height="10" fill="#00ff00"/>
<rect x="885" y="177" width="1" height="22" fill="#000"/>
<rect x="880" y="183" width="11" height="12" fill="#000"/>
<rect x="881" y="184" width="9" height="10" fill="#ff0000"/>
<rect x="901" y="172" width="1" height="39" fill="#000"/>
<rect x="896" y="182" width="11" height="23" fill="#000"/>
<rect x="897" y="183" width="9" height="21" fill="#00ff00"/>
<rect x="917" y="203" width="1" height="53" fill="#000"/>
<rect x="912" y="204" width="11" height="48" fill="#000"/>
<rect x="913" y="205" width="9" height="46" fill="#00ff00"/>
<rect x="933" y="220" width="1" height="44" fill="#000"/>
<rect x="928" y="238" width="11" height="14" fill="#000"/>
<rect x="929" y="239" width="9" height="12" fill="#ff0000"/>
<rect x="949" y="192" width="1" height="56" fill="#000"/>
<rect x="944" y="193" width="11" height="45" fill="#000"/>
<rect x="945" y="194" width="9" height="43" fill="#ff0000"/>
<rect x="965" y="180" width="1" height="14" fill="#000"/>
<rect x="960" y="182" width="11" height="12" fill="#000"/>
<rect x="961" y="183" width="9" height="10" fill="#ff0000"/>
<rect x="981" y="160" width="1" height="29" fill="#000"/>
<rect x="976" y="168" width="11" height="10" fill="#000"/>
<rect x="977" y="169" width="9" height="8" fill="#ff0000"/>
<rect x="997" y="157" width="1" height="63" fill="#000"/>
<rect x="992" y="169" width="11" height="50" fill="#000"/>
<rect x="993" y="170" width="9" height="48" fill="#00ff00"/>
<rect x="1013" y="214" width="1" height="39" fill="#000"/>
<rect x="1008" y="218" width="11" height="32" fill="#000"/>
<rect x="1009" y="219" width="9" height="30" fill="#00ff00"/>
<rect x="1029" y="226" width="1" height="27" fill="#000"/>
<rect x="1024" y="230" width="11" height="20" fill="#000"/>
<rect x="1025" y="231" width="9" height="18" fill="#ff0000"/>
<rect x="1045" y="228" width="1" height="48" fill="#000"/>
<rect x="1040" y="230" width="11" height="28" fill="#000"/>
<rect x="1041" y="231" width="9" height="26" fill="#00ff00"/>
<rect x="1061" y="162" width="1" height="116" fill="#000"/>
<rect x="1056" y="169" width="11" height="89" fill="#000"/>
<rect x="1057" y="170" width="9" height="87" fill="#ff0000"/>
<rect x="1077" y="167" width="1" height="35" fill="#000"/>
<rect x="1072" y="169" width="11" height="3" fill="#000"/>
<rect x="1073" y="170" width="9" height="1" fill="#00ff00"/>
<rect x="1093" y="173" width="1" height="50" fill="#000"/>
<rect x="1088" y="175" width="11" height="33" fill="#000"/>
<rect x="1089" y="176" width="9" height="31" fill="#00ff00"/>
<rect x="1109" y="167" width="1" height="48" fill="#000"/>
<rect x="1104" y="190" width="11" height="18" fill="#000"/>
<rect x="1105" y="191" width="9" height="16" fill="#ff0000"/>
<rect x="1125" y="169" width="1" height="42" fill="#000"/>
<rect x="1120" y="188" width="11" height="3" fill="#000"/>
<rect x="1121" y="189" width="9" height="1" fill="#ff0000"/>
<rect x="1141" y="144" width="1" height="62" fill="#000"/>
<rect x="1136" y="144" width="11" height="46" fill="#000"/>
<rect x="1137" y="145" width="9" height="44" fill="#ff0000"/>
<rect x="1157" y="140" width="1" height="54" fill="#000"/>
<rect x="1152" y="144" width="11" height="26" fill="#000"/>
<rect x="1153" y="145" width="9" height="24" fill="#00ff00"/>
<rect x="1173" y="164" width="1" height="21" fill="#000"/>
<rect x="1168" y="175" width="11" height="7" fill="#000"/>
<rect x="1169" y="176" width="9" height="5" fill="#ff0000"/>
<rect x="1189" y="132" width="1" height="50" fill="#000"/>
<rect x="1184" y="167" width="11" height="9" fill="#000"/>
<rect x="1185" y="168" width="9" height="7" fill="#ff0000"/>
<rect x="1205" y="161" width="1" height="28" fill="#000"/>
<rect x="1200" y="167" width="11" height="7" fill="#000"/>
<rect x="1201" y="168" width="9" height="5" fill="#00ff00"/>
<rect x="1221" y="135" width="1" height="59" fill="#000"/>
<rect x="1216" y="148" width="11" height="26" fill="#000"/>
<rect x="1217" y="149" width="9" height="24" fill="#ff0000"/>
<rect x="1237" y="90" width="1" height="72" fill="#000"/>
<rect x="1232" y="138" width="11" height="11" fill="#000"/>
<rect x="1233" y="139" width="9" height="9" fill="#ff0000"/>
<rect x="1253" y="134" width="1" height="20" fill="#000"/>
<rect x="1248" y="135" width="11" height="4" fill="#000"/>
<rect x="1249" y="136" width="9" height="2" fill="#ff0000"/>
<rect x="1269" y="56" width="1" height="53" fill="#000"/>
<rect x="1264" y="77" width="11" height="32" fill="#000"/>
<rect x="1265" y="78" width="9" height="30" fill="#ff0000"/>
<rect x="1285" y="63" width="1" height="46" fill="#000"/>
<rect x="1280" y="80" width="11" height="17" fill="#000"/>
<rect x="1281" y="81" width="9" height="15" fill="#00ff00"/>
<rect x="1301" y="91" width="1" height="64" fill="#000"/>
<rect x="1296" y="96" width="11" height="54" fill="#000"/>
<rect x="1297" y="97" width="9" height="52" fill="#00ff00"/>
<rect x="1317" y="103" width="1" height="47" fill="#000"/>
<rect x="1312" y="116" width="11" height="34" fill="#000"/>
<rect x="1313" y="117" width="9" height="32" fill="#ff0000"/>
<rect x="1333" y="95" width="1" height="42" fill="#000"/>
<rect x="1328" y="109" width="11" height="8" fill="#000"/>
<rect x="1329" y="110" width="9" height="6" fill="#ff0000"/>
<rect x="1349" y="96" width="1" height="26" fill="#000"/>
<rect x="5" y="45" width="1612" height="2" fill="#ff0000"/>
<rect x="4" y="43" width="6" height="6" fill="#ff0000"/>
<rect x="6" y="45" width="2" height="2" fill="#fff"/>
<rect x="1611" y="43" width="6" height="6" fill="#ff0000"/>
<rect x="1613" y="45" width="2" height="2" fill="#fff"/>
<rect x="5" y="75" width="1612" height="2" fill="#ff0000"/>
<rect x="4" y="73" width="6" height="6" fill="#ff0000"/>
<rect x="6" y="75" width="2" height="2" fill="#fff"/>
<rect x="1611" y="73" width="6" height="6" fill="#ff0000"/>
<rect x="1613" y="75" width="2" height="2" fill="#fff"/>
<rect x="5" y="122" width="1612" height="2" fill="#ffa500"/>
<rect x="4" y="120" width="6" height="6" fill="#ffa500"/>
<rect x="6" y="122" width="2" height="2" fill="#fff"/>
<rect x="1611" y="120" width="6" height="6" fill="#ffa500"/>
<rect x="1613" y="122" width="2" height="2" fill="#fff"/>
<rect x="5" y="158" width="1612" height="2" fill="#0000ff"/>
<rect x="4" y="156" width="6" height="6" fill="#0000ff"/>
<rect x="6" y="158" width="2" height="2" fill="#fff"/>
<rect x="1611" y="156" width="6" height="6" fill="#0000ff"/>
<rect x="1613" y="158" width="2" height="2" fill="#fff"/>
<rect x="5" y="190" width="1612" height="2" fill="#0000ff"/>
<rect x="1386" y="29" width="9" height="1" fill="#000"/>
<rect x="1387" y="30" width="7" height="1" fill="#000"/>
<rect x="1388" y="31" width="5" height="1" fill="#000"/>
<rect x="1389" y="32" width="3" height="1" fill="#000"/>
<rect x="1390" y="33" width="1" height="1" fill="#000"/>
<rect x="5" y="680" width="2" height="4" fill="#00ff00"/>
<rect x="20" y="677" width="3" height="7" fill="#00ff00"/>
<rect x="36" y="664" width="3" height="20" fill="#00ff00"/>
<rect x="52" y="654" width="3" height="30" fill="#00ff00"/>
<rect x="68" y="648" width="3" height="36" fill="#00ff00"/>
<rect x="84" y="646" width="3" height="38" fill="#00ff00"/>
<rect x="100" y="645" width="3" height="39" fill="#00ff00"/>
<rect x="116" y="645" width="3" height="39" fill="#00ff00"/>
<rect x="132" y="649" width="3" height="35" fill="#00ff00"/>
<rect x="148" y="653" width="3" height="31" fill="#00ff00"/>
<rect x="164" y="657" width="3" height="27" fill="#00ff00"/>
<rect x="180" y="660" width="3" height="24" fill="#00ff00"/>
<rect x="196" y="662" width="3" height="22" fill="#00ff00"/>
<rect x="212" y="665" width="3" height="19" fill="#00ff00"/>
<rect x="228" y="665" width="3" height="19" fill="#00ff00"/>
<rect x="244" y="658" width="3" height="26" fill="#00ff00"/>
<rect x="260" y="652" width="3" height="32" fill="#00ff00"/>
<rect x="276" y="644" width="3" height="40" fill="#00ff00"/>
<rect x="292" y="639" width="3" height="45" fill="#00ff00"/>
<rect x="308" y="635" width="3" height="49" fill="#00ff00"/>
<rect x="324" y="633" width="3" height="51" fill="#00ff00"/>
<rect x="340" y="630" width="3" height="54" fill="#00ff00"/>
<rect x="356" y="625" width="3" height="59" fill="#00ff00"/>
<rect x="372" y="619" width="3" height="65" fill="#00ff00"/>
<rect x="388" y="616" width="3" height="68" fill="#00ff00"/>
<rect x="404" y="613" width="3" height="71" fill="#00ff00"/>
<rect x="420" y="608" width="3" height="76" fill="#00ff00"/>
<rect x="436" y="609" width="3" height="75" fill="#00ff00"/>
<rect x="452" y="610" width="3" height="74" fill="#00ff00"/>
<rect x="468" y="611" width="3" height="73" fill="#00ff00"/>
<rect x="484" y="615" width="3" height="69" fill="#00ff00"/>
<rect x="500" y="618" width="3" height="66" fill="#00ff00"/>
<rect x="516" y="615" width="3" height="69" fill="#00ff00"/>
<rect x="532" y="618" width="3" height="66" fill="#00ff00"/>
<rect x="548" y="622" width="3" height="62" fill="#00ff00"/>
<rect x="564" y="622" width="3" height="62" fill="#00ff00"/>
<rect x="580" y="622" width="3" height="62" fill="#00ff00"/>
<rect x="596" y="622" width="3" height="62" fill="#00ff00"/>
<rect x="612" y="625" width="3" height="59" fill="#00ff00"/>
<rect x="628" y="626" width="3" height="58" fill="#00ff00"/>
<rect x="644" y="628" width="3" height="56" fill="#00ff00"/>
<rect x="660" y="629" width="3" height="55" fill="#00ff00"/>
<rect x="676" y="630" width="3" height="54" fill="#00ff00"/>
<rect x="692" y="632" width="3" height="52" fill="#00ff00"/>
<rect x="708" y="637" width="3" height="47" fill="#00ff00"/>
<rect x="724" y="640" width="3" height="44" fill="#00ff00"/>
<rect x="740" y="642" width="3" height="42" fill="#00ff00"/>
<rect x="756" y="644" width="3" height="40" fill="#00ff00"/>
<rect x="772" y="644" width="3" height="40" fill="#00ff00"/>
<rect x="788" y="648" width="3" height="36" fill="#00ff00"/>
<rect x="804" y="651" width="3" height="33" fill="#00ff00"/>
<rect x="820" y="653" width="3" height="31" fill="#00ff00"/>
<rect x="836" y="653" width="3" height="31" fill="#00ff00"/>
<rect x="852" y="653" width="3" height="31" fill="#00ff00"/>
<rect x="868" y="655" width="3" height="29" fill="#00ff00"/>
<rect x="884" y="656" width="3" height="28" fill="#00ff00"/>
<rect x="900" y="659" width="3" height="25" fill="#00ff00"/>
<rect x="916" y="666" width="3" height="18" fill="#00ff00"/>
<rect x="932" y="670" width="3" height="14" fill="#00ff00"/>
<rect x="948" y="670" width="3" height="14" fill="#00ff00"/>
<rect x="964" y="669" width="3" height="15" fill="#00ff00"/>
<rect x="980" y="668" width="3" height="16" fill="#00ff00"/>
<rect x="996" y="670" width="3" height="14" fill="#00ff00"/>
<rect x="1012" y="675" width="3" height="9" fill="#00ff00"/>
<rect x="1028" y="678" width="3" height="6" fill="#00ff00"/>
<rect x="1044" y="682" width="3" height="2" fill="#00ff00"/>
<rect x="1060" y="678" width="3" height="6" fill="#00ff00"/>
<rect x="1076" y="675" width="3" height="9" fill="#00ff00"/>
<rect x="1092" y="675" width="3" height="9" fill="#00ff00"/>
<rect x="1108" y="675" width="3" height="9" fill="#00ff00"/>
<rect x="1124" y="677" width="3" height="7" fill="#00ff00"/>
<rect x="1140" y="672" width="3" height="12" fill="#00ff00"/>
<rect x="1156" y="671" width="3" height="13" fill="#00ff00"/>
<rect x="1172" y="671" width="3" height="13" fill="#00ff00"/>
<rect x="1188" y="671" width="3" height="13" fill="#00ff00"/>
<rect x="1204" y="671" width="3" height="13" fill="#00ff00"/>
<rect x="1220" y="669" width="3" height="15" fill="#00ff00"/>
<rect x="1236" y="667" width="3" height="17" fill="#00ff00"/>
<rect x="1252" y="666" width="3" height="18" fill="#00ff00"/>
<rect x="1268" y="661" width="3" height="23" fill="#00ff00"/>
<rect x="1284" y="658" width="3" height="26" fill="#00ff00"/>
<rect x="1300" y="661" width="3" height="23" fill="#00ff00"/>
<rect x="1316" y="660" width="3" height="24" fill="#00ff00"/>
<rect x="1332" y="660" width="3" height="24" fill="#00ff00"/>
<rect x="1348" y="659" width="3" height="25" fill="#00ff00"/>
</g>
<polyline points="5.5,704.0 21.5,700.0 37.5,695.0 53.5,688.0 69.5,680.0 85.5,673.0 101.5,666.4 117.5,661.0 133.5,657.0 149.5,653.0 165.5,651.0 181.5,651.0 197.5,652.0 213.5,654.4 229.5,656.4 245.5,657.6 261.5,657.6 277.5,657.0 293.5,655.0 309.5,652.4 325.5,650.0 341.5,648.0 357.5,643.0 373.5,638.0 389.5,633.0 405.5,628.4 421.5,624.4 437.5,621.4 453.5,618.4 469.5,616.4 485.5,614.6 501.5,613.6 517.5,613.0 533.5,613.4 549.5,614.4 565.5,615.4 581.5,617.0 597.5,618.4 613.5,620.0 629.5,621.4 645.5,622.4 661.5,624.0 677.5,625.4 693.5,626.4 709.5,628.0 725.5,630.0 741.5,632.4 757.5,634.4 773.5,636.4 789.5,638.4 805.5,641.4 821.5,643.4 837.5,646.4 853.5,649.0 869.5,650.0 885.5,652.0 901.5,653.6 917.5,655.6 933.5,658.0 949.5,660.0 965.5,661.6 981.5,663.6 997.5,665.6 1013.5,667.6 1029.5,669.6 1045.5,672.4 1061.5,673.4 1077.5,674.4 1093.5,675.0 1109.5,675.4 1125.5,676.0 1141.5,676.0 1157.5,676.0 1173.5,675.4 1189.5,674.4 1205.5,673.6 1221.5,673.0 1237.5,672.4 1253.5,671.0 1269.5,669.6 1285.5,667.4 1301.5,666.8 1317.5,665.7 1333.5,664.8 1349.5,662.6" fill="none" stroke="#ff0000" stroke-width="2" shape-rendering="crispEdges"/>
<g shape-rendering="crispEdges" stroke="#000" stroke-width="1" stroke-dasharray="3,3">
<line x1="6" x2="1617" y1="732.5" y2="732.5"/>
<line x1="6" x2="1617" y1="762.5" y2="762.5"/>
<line x1="6" x2="1617" y1="797.5" y2="797.5"/>
</g>
<polyline points="5.5,751.6 21.5,753.0 37.5,739.6 53.5,740.0 69.5,743.4 85.5,748.6 101.5,751.0 117.5,751.0 133.5,758.6 149.5,761.0 165.5,761.4 181.5,759.4 197.5,759.4 213.5,762.0 229.5,755.0 245.5,746.0 261.5,743.4 277.5,740.4 293.5,740.0 309.5,740.0 325.5,743.0 341.5,740.4 357.5,737.4 373.5,734.4 389.5,738.0 405.5,738.0 421.5,734.4 437.5,744.6 453.5,744.6 469.5,743.6 485.5,746.6 501.5,746.6 517.5,740.6 533.5,751.4 549.5,751.4 565.5,746.6 581.5,746.6 597.5,746.6 613.5,751.6 629.5,749.4 645.5,749.0 661.5,748.6 677.5,747.6 693.5,751.0 709.5,755.0 725.5,754.6 741.5,753.6 757.5,750.4 773.5,749.6 789.5,756.6 805.5,755.6 821.5,755.6 837.5,750.6 853.5,751.0 869.5,754.0 885.5,754.4 901.5,759.0 917.5,767.6 933.5,766.0 949.5,757.0 965.5,755.4 981.5,754.0 997.5,763.0 1013.5,767.6 1029.5,765.0 1045.5,767.6 1061.5,756.0 1077.5,756.0 1093.5,761.4 1109.5,759.4 1125.5,759.0 1141.5,754.0 1157.5,757.6 1173.5,757.6 1189.5,757.6 1205.5,757.6 1221.5,754.4 1237.5,753.6 1253.5,753.0 1269.5,745.6 1285.5,748.6 1301.5,759.0 1317.5,755.4 1333.5,754.4 1349.5,753.9" fill="none" stroke="#1e90ff" stroke-width="2" shape-rendering="crispEdges"/>
<g><line x1="1256" y1="229.3" x2="1361" y2="181.8" stroke="#e8161e" stroke-width="2.9"/>
<polygon points="1374.4,175.1 1354.6,175.3 1362.3,190.8" fill="#e8161e"/></g>
<g shape-rendering="crispEdges">
<rect x="1618" y="36" width="2" height="1" fill="#000"/>
<rect x="1618" y="69" width="2" height="1" fill="#000"/>
<rect x="1618" y="102" width="2" height="1" fill="#000"/>
<rect x="1618" y="135" width="2" height="1" fill="#000"/>
<rect x="1618" y="168" width="2" height="1" fill="#000"/>
<rect x="1618" y="201" width="2" height="1" fill="#000"/>
<rect x="1618" y="234" width="2" height="1" fill="#000"/>
<rect x="1618" y="267" width="2" height="1" fill="#000"/>
<rect x="1618" y="300" width="2" height="1" fill="#000"/>
<rect x="1618" y="333" width="2" height="1" fill="#000"/>
<rect x="1618" y="366" width="2" height="1" fill="#000"/>
<rect x="1618" y="399" width="2" height="1" fill="#000"/>
<rect x="1618" y="432" width="2" height="1" fill="#000"/>
<rect x="1618" y="465" width="2" height="1" fill="#000"/>
<rect x="1618" y="498" width="2" height="1" fill="#000"/>
<rect x="1618" y="531" width="2" height="1" fill="#000"/>
<rect x="1618" y="564" width="2" height="1" fill="#000"/>
<rect x="1618" y="597" width="2" height="1" fill="#000"/>
<rect x="1618" y="684" width="2" height="1" fill="#000"/>
<rect x="1618" y="604" width="1" height="1" fill="#000"/>
<rect x="1618" y="708" width="1" height="1" fill="#000"/>
<rect x="1618" y="713" width="1" height="1" fill="#000"/>
<rect x="1618" y="812" width="1" height="1" fill="#000"/>
<rect x="5" y="814" width="1" height="3" fill="#000"/>
<rect x="69" y="814" width="1" height="3" fill="#000"/>
<rect x="133" y="814" width="1" height="3" fill="#000"/>
<rect x="197" y="814" width="1" height="3" fill="#000"/>
<rect x="261" y="814" width="1" height="3" fill="#000"/>
<rect x="325" y="814" width="1" height="3" fill="#000"/>
<rect x="389" y="814" width="1" height="3" fill="#000"/>
<rect x="453" y="814" width="1" height="3" fill="#000"/>
<rect x="517" y="814" width="1" height="3" fill="#000"/>
<rect x="581" y="814" width="1" height="3" fill="#000"/>
<rect x="645" y="814" width="1" height="3" fill="#000"/>
<rect x="709" y="814" width="1" height="3" fill="#000"/>
<rect x="773" y="814" width="1" height="3" fill="#000"/>
<rect x="837" y="814" width="1" height="3" fill="#000"/>
<rect x="901" y="814" width="1" height="3" fill="#000"/>
<rect x="965" y="814" width="1" height="3" fill="#000"/>
<rect x="1029" y="814" width="1" height="3" fill="#000"/>
<rect x="1093" y="814" width="1" height="3" fill="#000"/>
<rect x="1157" y="814" width="1" height="3" fill="#000"/>
<rect x="1221" y="814" width="1" height="3" fill="#000"/>
<rect x="1285" y="814" width="1" height="3" fill="#000"/>
<rect x="1349" y="814" width="1" height="3" fill="#000"/>
</g>
<g class="ax">
<text x="1622.6" y="40.0" transform="rotate(0.03 1622.6 40.0)" textLength="33.6" lengthAdjust="spacingAndGlyphs">27885.0</text>
<text x="1622.6" y="73.0" transform="rotate(0.03 1622.6 73.0)" textLength="33.6" lengthAdjust="spacingAndGlyphs">27780.0</text>
<text x="1622.6" y="106.0" transform="rotate(0.03 1622.6 106.0)" textLength="33.6" lengthAdjust="spacingAndGlyphs">27678.0</text>
<text x="1622.6" y="139.0" transform="rotate(0.03 1622.6 139.0)" textLength="33.6" lengthAdjust="spacingAndGlyphs">27576.0</text>
<text x="1622.6" y="172.0" transform="rotate(0.03 1622.6 172.0)" textLength="33.6" lengthAdjust="spacingAndGlyphs">27474.0</text>
<text x="1622.6" y="205.0" transform="rotate(0.03 1622.6 205.0)" textLength="33.6" lengthAdjust="spacingAndGlyphs">27369.0</text>
<text x="1622.6" y="238.0" transform="rotate(0.03 1622.6 238.0)" textLength="33.6" lengthAdjust="spacingAndGlyphs">27267.0</text>
<text x="1622.6" y="271.0" transform="rotate(0.03 1622.6 271.0)" textLength="33.6" lengthAdjust="spacingAndGlyphs">27165.0</text>
<text x="1622.6" y="304.0" transform="rotate(0.03 1622.6 304.0)" textLength="33.6" lengthAdjust="spacingAndGlyphs">27063.0</text>
<text x="1622.6" y="337.0" transform="rotate(0.03 1622.6 337.0)" textLength="33.6" lengthAdjust="spacingAndGlyphs">26958.0</text>
<text x="1622.6" y="370.0" transform="rotate(0.03 1622.6 370.0)" textLength="33.6" lengthAdjust="spacingAndGlyphs">26856.0</text>
<text x="1622.6" y="403.0" transform="rotate(0.03 1622.6 403.0)" textLength="33.6" lengthAdjust="spacingAndGlyphs">26754.0</text>
<text x="1622.6" y="436.0" transform="rotate(0.03 1622.6 436.0)" textLength="33.6" lengthAdjust="spacingAndGlyphs">26652.0</text>
<text x="1622.6" y="469.0" transform="rotate(0.03 1622.6 469.0)" textLength="33.6" lengthAdjust="spacingAndGlyphs">26550.0</text>
<text x="1622.6" y="502.0" transform="rotate(0.03 1622.6 502.0)" textLength="33.6" lengthAdjust="spacingAndGlyphs">26445.0</text>
<text x="1622.6" y="535.0" transform="rotate(0.03 1622.6 535.0)" textLength="33.6" lengthAdjust="spacingAndGlyphs">26343.0</text>
<text x="1622.6" y="568.0" transform="rotate(0.03 1622.6 568.0)" textLength="33.6" lengthAdjust="spacingAndGlyphs">26241.0</text>
<text x="1622.6" y="601.0" transform="rotate(0.03 1622.6 601.0)" textLength="33.6" lengthAdjust="spacingAndGlyphs">26139.0</text>
<text x="1620.8" y="613.0" transform="rotate(0.03 1620.8 613.0)" textLength="28.8" lengthAdjust="spacingAndGlyphs">262.65</text>
<text x="1620.8" y="688.0" transform="rotate(0.03 1620.8 688.0)" textLength="18.2" lengthAdjust="spacingAndGlyphs">0.00</text>
<text x="1620.8" y="706.0" transform="rotate(0.03 1620.8 706.0)" textLength="26.6" lengthAdjust="spacingAndGlyphs">-77.89</text>
<text x="1620.0" y="722.0" transform="rotate(0.03 1620.0 722.0)" textLength="14.7" lengthAdjust="spacingAndGlyphs">100</text>
<text x="1620.0" y="736.0" transform="rotate(0.03 1620.0 736.0)" textLength="9.7" lengthAdjust="spacingAndGlyphs">80</text>
<text x="1620.0" y="766.0" transform="rotate(0.03 1620.0 766.0)" textLength="9.7" lengthAdjust="spacingAndGlyphs">50</text>
<text x="1620.0" y="801.0" transform="rotate(0.03 1620.0 801.0)" textLength="9.7" lengthAdjust="spacingAndGlyphs">15</text>
<text x="1620.0" y="810.0" transform="rotate(0.03 1620.0 810.0)" textLength="4.8" lengthAdjust="spacingAndGlyphs">0</text>
<text x="4.4" y="826.0" transform="rotate(0.03 4.4 826.0)" textLength="49.5" lengthAdjust="spacingAndGlyphs">17 Jan 2023</text>
<text x="68.4" y="826.0" transform="rotate(0.03 68.4 826.0)" textLength="52.6" lengthAdjust="spacingAndGlyphs">18 Jan 10:55</text>
<text x="132.4" y="826.0" transform="rotate(0.03 132.4 826.0)" textLength="52.6" lengthAdjust="spacingAndGlyphs">19 Jan 00:00</text>
<text x="196.4" y="826.0" transform="rotate(0.03 196.4 826.0)" textLength="52.6" lengthAdjust="spacingAndGlyphs">19 Jan 18:55</text>
<text x="260.4" y="826.0" transform="rotate(0.03 260.4 826.0)" textLength="52.6" lengthAdjust="spacingAndGlyphs">20 Jan 10:55</text>
<text x="324.4" y="826.0" transform="rotate(0.03 324.4 826.0)" textLength="52.6" lengthAdjust="spacingAndGlyphs">23 Jan 00:00</text>
<text x="388.4" y="826.0" transform="rotate(0.03 388.4 826.0)" textLength="52.6" lengthAdjust="spacingAndGlyphs">23 Jan 18:55</text>
<text x="452.4" y="826.0" transform="rotate(0.03 452.4 826.0)" textLength="52.6" lengthAdjust="spacingAndGlyphs">24 Jan 10:55</text>
<text x="516.4" y="826.0" transform="rotate(0.03 516.4 826.0)" textLength="52.6" lengthAdjust="spacingAndGlyphs">25 Jan 00:00</text>
<text x="580.4" y="826.0" transform="rotate(0.03 580.4 826.0)" textLength="52.6" lengthAdjust="spacingAndGlyphs">25 Jan 18:55</text>
<text x="644.4" y="826.0" transform="rotate(0.03 644.4 826.0)" textLength="52.6" lengthAdjust="spacingAndGlyphs">26 Jan 10:55</text>
<text x="708.4" y="826.0" transform="rotate(0.03 708.4 826.0)" textLength="52.6" lengthAdjust="spacingAndGlyphs">27 Jan 00:00</text>
<text x="772.4" y="826.0" transform="rotate(0.03 772.4 826.0)" textLength="52.6" lengthAdjust="spacingAndGlyphs">27 Jan 18:55</text>
<text x="836.4" y="826.0" transform="rotate(0.03 836.4 826.0)" textLength="52.6" lengthAdjust="spacingAndGlyphs">30 Jan 10:55</text>
<text x="900.4" y="826.0" transform="rotate(0.03 900.4 826.0)" textLength="52.6" lengthAdjust="spacingAndGlyphs">31 Jan 00:00</text>
<text x="964.4" y="826.0" transform="rotate(0.03 964.4 826.0)" textLength="52.6" lengthAdjust="spacingAndGlyphs">31 Jan 18:55</text>
<text x="1028.4" y="826.0" transform="rotate(0.03 1028.4 826.0)" textLength="50.4" lengthAdjust="spacingAndGlyphs">1 Feb 10:55</text>
<text x="1092.4" y="826.0" transform="rotate(0.03 1092.4 826.0)" textLength="50.4" lengthAdjust="spacingAndGlyphs">2 Feb 00:00</text>
<text x="1156.4" y="826.0" transform="rotate(0.03 1156.4 826.0)" textLength="50.4" lengthAdjust="spacingAndGlyphs">2 Feb 18:55</text>
<text x="1220.4" y="826.0" transform="rotate(0.03 1220.4 826.0)" textLength="50.4" lengthAdjust="spacingAndGlyphs">3 Feb 10:55</text>
<text x="1284.4" y="826.0" transform="rotate(0.03 1284.4 826.0)" textLength="50.4" lengthAdjust="spacingAndGlyphs">6 Feb 00:00</text>
<text x="1348.4" y="826.0" transform="rotate(0.03 1348.4 826.0)" textLength="50.4" lengthAdjust="spacingAndGlyphs">6 Feb 18:55</text>
<text x="20.0" y="40.0" transform="rotate(0.03 20.0 40.0)" textLength="49.8" lengthAdjust="spacingAndGlyphs">JPN225-,H4</text>
<text x="75.8" y="40.0" transform="rotate(0.03 75.8 40.0)" textLength="32.9" lengthAdjust="spacingAndGlyphs">27656.2</text>
<text x="111.8" y="40.0" transform="rotate(0.03 111.8 40.0)" textLength="32.9" lengthAdjust="spacingAndGlyphs">27696.0</text>
<text x="147.9" y="40.0" transform="rotate(0.03 147.9 40.0)" textLength="32.9" lengthAdjust="spacingAndGlyphs">27616.5</text>
<text x="183.9" y="40.0" transform="rotate(0.03 183.9 40.0)" textLength="32.9" lengthAdjust="spacingAndGlyphs">27655.7</text>
<text x="9.0" y="615.0" transform="rotate(0.03 9.0 615.0)" textLength="118.0" lengthAdjust="spacingAndGlyphs">MACD(12,26,9) 81.11 71.81</text>
<text x="9.0" y="724.0" transform="rotate(0.03 9.0 724.0)" textLength="68.2" lengthAdjust="spacingAndGlyphs">RSI(14) 58.6356</text>
</g>
<polygon points="7.9,34.7 15.1,34.7 11.5,38.9" fill="#000"/>
<rect x="1619" y="40" width="41" height="11" fill="#ff0000" shape-rendering="crispEdges"/>
<text x="1622.6" y="49.0" transform="rotate(0.03 1622.6 49.0)" textLength="33.6" lengthAdjust="spacingAndGlyphs" class="ax" style="fill:#fff;stroke:#fff">27851.2</text>
<rect x="1619" y="70" width="41" height="11" fill="#ff0000" shape-rendering="crispEdges"/>
<text x="1622.6" y="79.0" transform="rotate(0.03 1622.6 79.0)" textLength="33.6" lengthAdjust="spacingAndGlyphs" class="ax" style="fill:#fff;stroke:#fff">27758.0</text>
<rect x="1619" y="104" width="41" height="11" fill="#000000" shape-rendering="crispEdges"/>
<text x="1622.6" y="113.0" transform="rotate(0.03 1622.6 113.0)" textLength="33.6" lengthAdjust="spacingAndGlyphs" class="ax" style="fill:#fff;stroke:#fff">27655.7</text>
<rect x="1619" y="117" width="41" height="11" fill="#ffa500" shape-rendering="crispEdges"/>
<text x="1622.6" y="126.0" transform="rotate(0.03 1622.6 126.0)" textLength="33.6" lengthAdjust="spacingAndGlyphs" class="ax" style="fill:#fff;stroke:#fff">27612.0</text>
<rect x="1619" y="153" width="41" height="11" fill="#0000ff" shape-rendering="crispEdges"/>
<text x="1622.6" y="162.0" transform="rotate(0.03 1622.6 162.0)" textLength="33.6" lengthAdjust="spacingAndGlyphs" class="ax" style="fill:#fff;stroke:#fff">27500.1</text>
<rect x="1619" y="185" width="41" height="11" fill="#0000ff" shape-rendering="crispEdges"/>
<text x="1622.6" y="194.0" transform="rotate(0.03 1622.6 194.0)" textLength="33.6" lengthAdjust="spacingAndGlyphs" class="ax" style="fill:#fff;stroke:#fff">27402.6</text>
</svg>
</body></html>
